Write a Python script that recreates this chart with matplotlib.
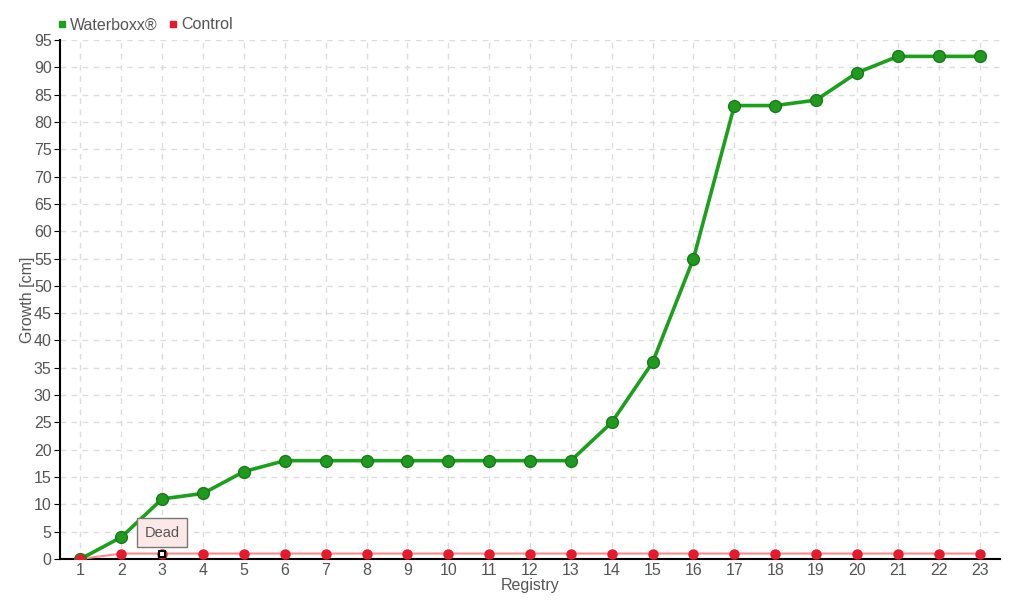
import matplotlib.pyplot as plt
import numpy as np
from matplotlib.lines import Line2D

registry = list(range(1, 24))
waterboxx = [0, 4, 11, 12, 16, 18, 18, 18, 18, 18, 18, 18, 18, 25, 36, 55, 83, 83, 84, 89, 92, 92, 92]
control = [0] + [1] * 22
dead_index = 2  # registry 3, control plant died

plt.rcParams['font.family'] = ['Liberation Sans', 'DejaVu Sans']
txt = '#555555'

fig = plt.figure(figsize=(10.2, 6), dpi=100)
ax = fig.add_axes([60 / 1020, 1 - 559 / 600, 940 / 1020, 519 / 600])

ax.plot(registry, waterboxx, color='#1ca01c', lw=2.6, zorder=5)
ax.plot(registry, waterboxx, ls='none', marker='o', ms=8.5, mfc='#1f9a1f', mec='#187a18', mew=1, zorder=6)
ax.plot(registry, control, color='#ff8a8a', lw=1.5, zorder=3)
ax.plot(registry, control, ls='none', marker='o', ms=6.5, mfc='#e8192c', mec='#e8192c', zorder=7)

# dead marker + tooltip
ax.plot(registry[dead_index], control[dead_index], marker='s', ms=4.5, mfc='white', mec='black', mew=1.5, zorder=8)
ax.annotate('Dead', xy=(registry[dead_index], control[dead_index]), xytext=(0, 15),
            textcoords='offset points', ha='center', va='center', fontsize=10.5, color=txt,
            bbox=dict(boxstyle='square,pad=0.5', fc='#fde8e8', ec='#777777', lw=1), zorder=9)

ax.set_xlim(0.5, 23.5)
ax.set_ylim(0, 95)
ax.set_xticks(registry)
ax.set_yticks(np.arange(0, 96, 5))
ax.grid(True, color='#dddddd', ls=(0, (4, 4)), lw=1)
ax.set_axisbelow(True)
for s in ['top', 'right']:
    ax.spines[s].set_visible(False)
for s in ['left', 'bottom']:
    ax.spines[s].set_color('black')
    ax.spines[s].set_linewidth(1.5)
ax.tick_params(axis='y', length=4, color='black', labelsize=11.5, labelcolor=txt, pad=2)
ax.tick_params(axis='x', length=0, labelsize=11.5, labelcolor=txt, pad=3)
ax.set_xlabel('Registry', fontsize=11.5, color=txt, labelpad=0)
ax.set_ylabel('Growth [cm]', fontsize=11.5, color=txt, labelpad=-1)

handles = [Line2D([], [], ls='none', marker='s', ms=5, color='#1ca01c'),
           Line2D([], [], ls='none', marker='s', ms=5, color='#e8192c')]
fig.legend(handles, ['Waterboxx®', 'Control'], loc='upper left', bbox_to_anchor=(0.04, 0.995),
           ncol=2, frameon=False, fontsize=11.5, labelcolor=txt, handletextpad=0.1,
           columnspacing=0.6, handlelength=0.8)

fig.savefig('out.png', dpi=100)
